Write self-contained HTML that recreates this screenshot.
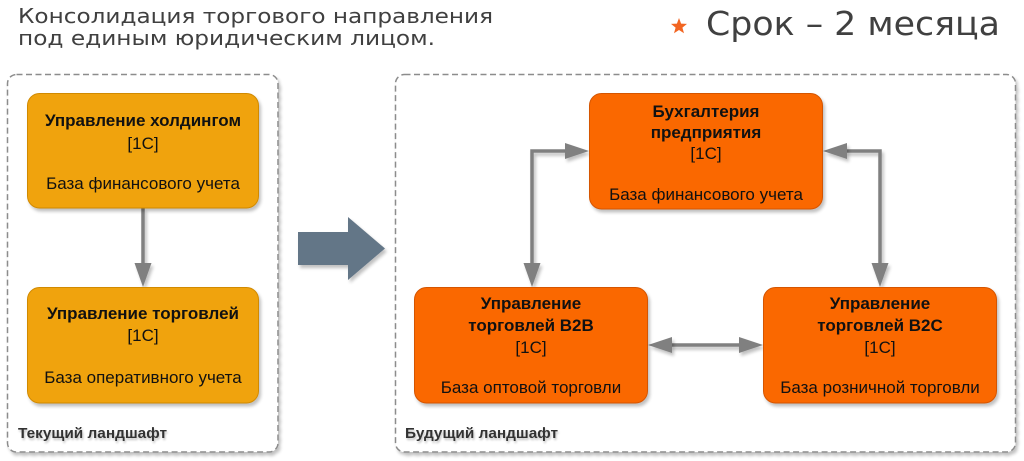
<!DOCTYPE html>
<html>
<head>
<meta charset="utf-8">
<style>
html,body{margin:0;padding:0;background:#fff;}
svg{display:block;}
</style>
</head>
<body>
<svg width="1024" height="461" viewBox="0 0 1024 461" xmlns="http://www.w3.org/2000/svg">
<defs>
  <filter id="sh" x="-10%" y="-10%" width="130%" height="130%">
    <feGaussianBlur in="SourceAlpha" stdDeviation="1.5"/>
    <feOffset dx="2" dy="3" result="o"/>
    <feComponentTransfer><feFuncA type="linear" slope="0.25"/></feComponentTransfer>
    <feMerge><feMergeNode/><feMergeNode in="SourceGraphic"/></feMerge>
  </filter>
  <filter id="tsh" x="-5%" y="-20%" width="110%" height="150%">
    <feGaussianBlur in="SourceAlpha" stdDeviation="1"/>
    <feOffset dx="1" dy="2" result="o"/>
    <feComponentTransfer><feFuncA type="linear" slope="0.25"/></feComponentTransfer>
    <feMerge><feMergeNode/><feMergeNode in="SourceGraphic"/></feMerge>
  </filter>
</defs>

<!-- Header -->
<g font-family="'DejaVu Sans','Liberation Sans',sans-serif" fill="#404040">
  <text x="18" y="23" font-size="20" textLength="475" lengthAdjust="spacingAndGlyphs">Консолидация торгового  направления</text>
  <text x="18" y="45" font-size="20" textLength="417" lengthAdjust="spacingAndGlyphs">под единым юридическим лицом.</text>
  <text x="706" y="35" font-size="33" textLength="294" lengthAdjust="spacingAndGlyphs">Срок – 2 месяца</text>
</g>
<polygon points="679,18 681.1,23.6 687,23.9 682.4,27.6 684,33.3 679,30 674,33.3 675.6,27.6 671,23.9 676.9,23.6" fill="#f26522"/>

<!-- Containers -->
<rect x="7.5" y="74.5" width="270.5" height="377.5" rx="9" ry="9" fill="#fff" stroke="#8c8c8c" stroke-width="1.5" stroke-dasharray="6 3.5" filter="url(#sh)"/>
<rect x="395.5" y="74.5" width="620" height="377.5" rx="9" ry="9" fill="#fff" stroke="#8c8c8c" stroke-width="1.5" stroke-dasharray="6 3.5" filter="url(#sh)"/>

<!-- Big arrow -->
<polygon points="298,232 348,232 348,217 385,248.5 348,280 348,265 298,265" fill="#647687" filter="url(#sh)"/>

<!-- Connectors -->
<g stroke="#808080" stroke-width="3.5" fill="none" filter="url(#sh)">
  <line x1="143" y1="208" x2="143" y2="266"/>
  <polyline points="567,151 532,151 532,266"/>
  <polyline points="845,151 880,151 880,266"/>
  <line x1="670" y1="345" x2="741" y2="345"/>
</g>
<g fill="#808080" filter="url(#sh)">
  <!-- left down -->
  <polygon points="134.5,263 151.5,263 143,287"/>
  <!-- top node left -->
  <polygon points="565,143 565,159 589,151"/>
  <polygon points="523.5,263 540.5,263 532,287"/>
  <!-- top node right -->
  <polygon points="847,143 847,159 823,151"/>
  <polygon points="871.5,263 888.5,263 880,287"/>
  <!-- horizontal -->
  <polygon points="672,337 672,353 648,345"/>
  <polygon points="739,337 739,353 763,345"/>
</g>

<!-- Nodes -->
<g filter="url(#sh)">
  <rect x="27.5" y="93.5" width="231" height="114.5" rx="12" ry="12" fill="#f0a30a" stroke="#d18a06" stroke-width="1"/>
  <rect x="27.5" y="287.5" width="231" height="115.5" rx="12" ry="12" fill="#f0a30a" stroke="#d18a06" stroke-width="1"/>
  <rect x="589.5" y="93.5" width="233" height="115.5" rx="12" ry="12" fill="#fa6800" stroke="#d55500" stroke-width="1"/>
  <rect x="414.5" y="287.5" width="233" height="115.5" rx="12" ry="12" fill="#fa6800" stroke="#d55500" stroke-width="1"/>
  <rect x="763.5" y="287.5" width="233" height="115.5" rx="12" ry="12" fill="#fa6800" stroke="#d55500" stroke-width="1"/>
</g>

<!-- Node text -->
<g font-family="'Liberation Sans',Arial,sans-serif" font-size="17" fill="#111" text-anchor="middle">
  <text x="143" y="126" font-weight="bold">Управление холдингом</text>
  <text x="143" y="149">[1C]</text>
  <text x="143" y="189">База финансового учета</text>

  <text x="143" y="319" font-weight="bold">Управление торговлей</text>
  <text x="143" y="341">[1C]</text>
  <text x="143" y="383">База оперативного учета</text>

  <text x="706" y="117" font-weight="bold">Бухгалтерия</text>
  <text x="706" y="138" font-weight="bold">предприятия</text>
  <text x="706" y="159">[1C]</text>
  <text x="706" y="200">База финансового учета</text>

  <text x="531" y="309" font-weight="bold">Управление</text>
  <text x="531" y="331" font-weight="bold">торговлей B2B</text>
  <text x="531" y="353">[1C]</text>
  <text x="531" y="393">База оптовой торговли</text>

  <text x="880" y="309" font-weight="bold">Управление</text>
  <text x="880" y="331" font-weight="bold">торговлей B2C</text>
  <text x="880" y="353">[1C]</text>
  <text x="880" y="393">База розничной торговли</text>
</g>

<!-- Container labels -->
<g font-family="'Liberation Sans',Arial,sans-serif" font-size="14.5" font-weight="bold" fill="#333" filter="url(#tsh)">
  <text x="18" y="438" textLength="149" lengthAdjust="spacingAndGlyphs">Текущий ландшафт</text>
  <text x="405" y="438" textLength="153" lengthAdjust="spacingAndGlyphs">Будущий ландшафт</text>
</g>
</svg>
</body>
</html>
